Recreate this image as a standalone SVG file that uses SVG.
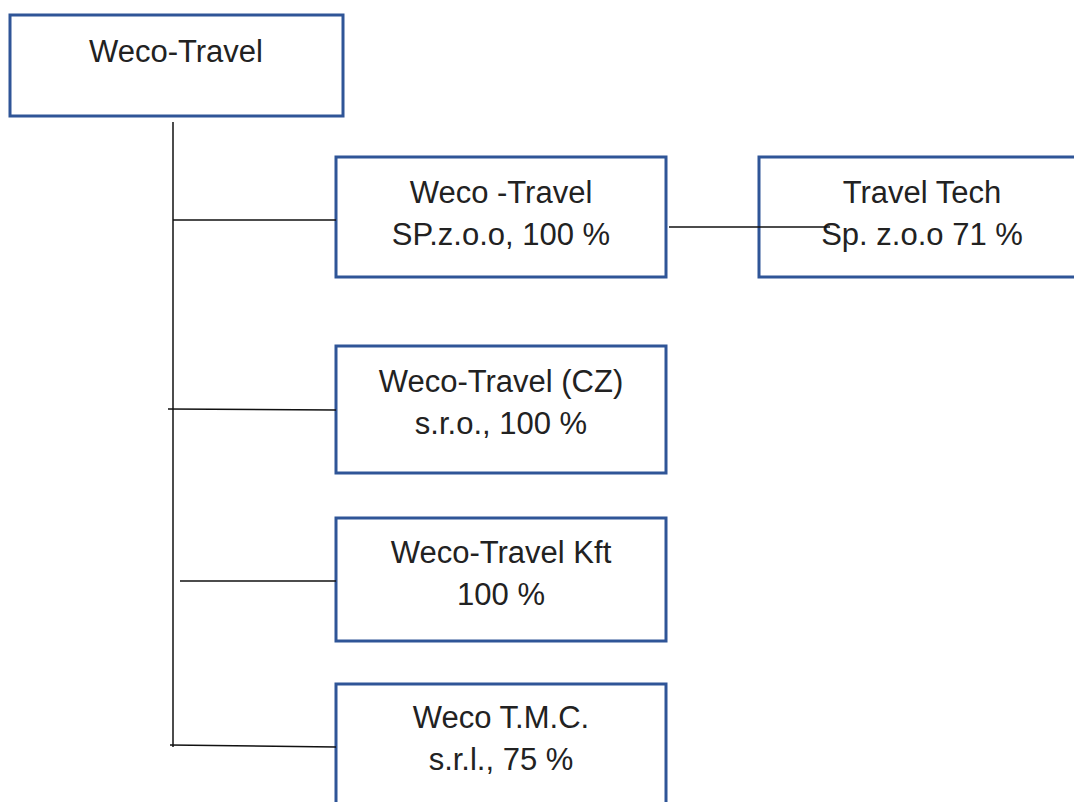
<svg xmlns="http://www.w3.org/2000/svg" width="1074" height="802" viewBox="0 0 1074 802">
<style>
.box{fill:#fff;stroke:#2F5597;stroke-width:3}
.t{font-family:"Liberation Sans",Arial,sans-serif;font-size:31px;fill:#222;text-anchor:middle}
.ln{stroke:#111;stroke-width:1.5;fill:none}
</style>
<rect width="1074" height="802" fill="#fff"/>
<g id="n0"><rect class="box" x="10" y="15" width="333" height="101"/><text class="t" x="176" y="62">Weco-Travel</text></g>
<g id="n1"><rect class="box" x="336" y="157" width="330" height="120"/><text class="t" x="501" y="203">Weco -Travel</text><text class="t" x="501" y="245">SP.z.o.o, 100 %</text></g>
<g id="n2"><rect class="box" x="759" y="157" width="330" height="120"/><text class="t" x="922" y="203">Travel Tech</text><text class="t" x="922" y="245">Sp. z.o.o 71 %</text></g>
<g id="n3"><rect class="box" x="336" y="346" width="330" height="127"/><text class="t" x="501" y="392">Weco-Travel (CZ)</text><text class="t" x="501" y="434">s.r.o., 100 %</text></g>
<g id="n4"><rect class="box" x="336" y="518" width="330" height="123"/><text class="t" x="501" y="563">Weco-Travel Kft</text><text class="t" x="501" y="605">100 %</text></g>
<g id="n5"><rect class="box" x="336" y="684" width="330" height="130"/><text class="t" x="501" y="728">Weco T.M.C.</text><text class="t" x="501" y="770">s.r.l., 75 %</text></g>
<g id="connectors">
<line class="ln" x1="173" y1="122" x2="173" y2="747"/>
<line class="ln" x1="173" y1="220" x2="336" y2="220"/>
<line class="ln" x1="168" y1="409" x2="336" y2="410"/>
<line class="ln" x1="180" y1="581" x2="336" y2="581"/>
<line class="ln" x1="170" y1="745" x2="336" y2="747"/>
<line class="ln" x1="669" y1="227" x2="830" y2="227"/>
</g>
</svg>
